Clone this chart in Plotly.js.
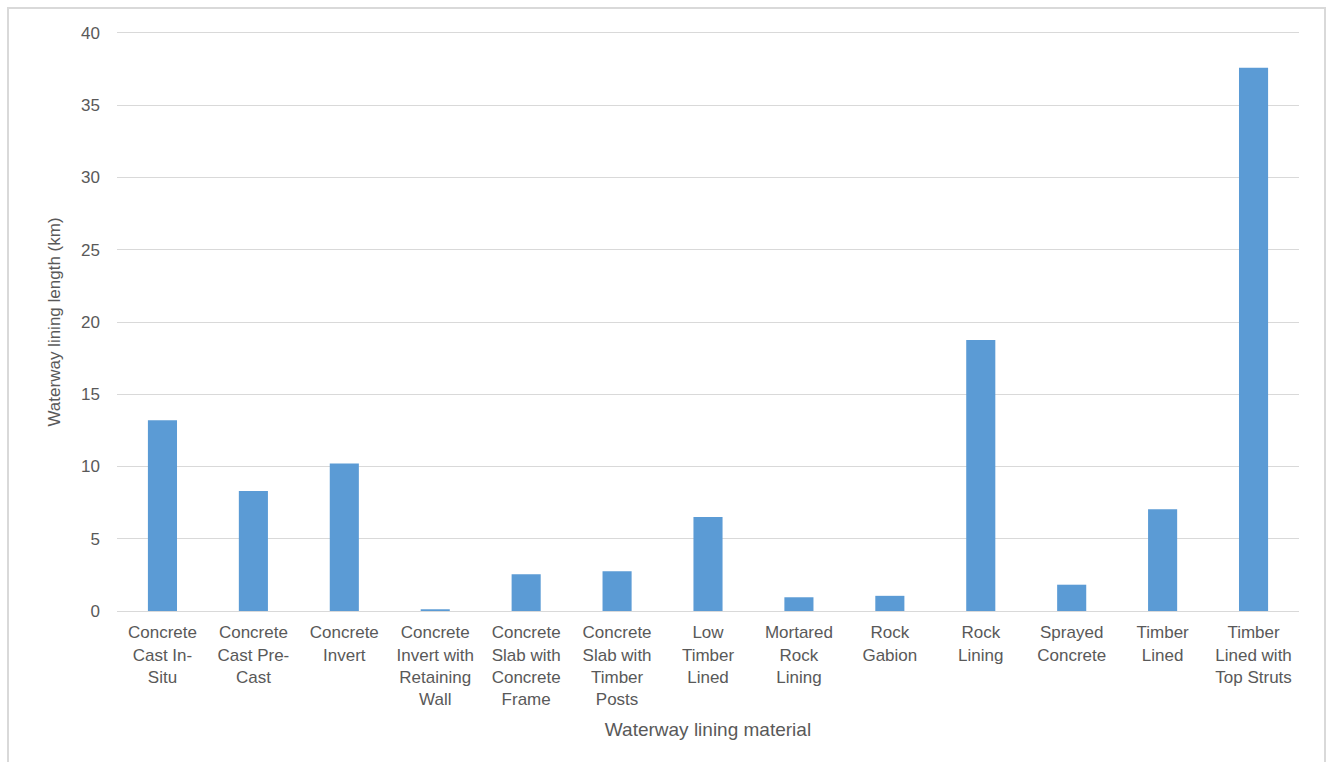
<!DOCTYPE html>
<html>
<head>
<meta charset="utf-8">
<script src="https://cdn.plot.ly/plotly-3.0.1.min.js"></script>
<style>
  html, body { margin: 0; padding: 0; background: #fff; }
  #frame { position: absolute; left: 7px; top: 7px; width: 1319px; height: 770px; border: 2px solid #d9d9d9; box-sizing: border-box; }
  #chart { position: absolute; left: 0; top: 0; width: 1333px; height: 762px; }
</style>
</head>
<body>
<div id="frame"></div>
<div id="chart"></div>
<script>
const categories = [
  "Concrete<br>Cast In-<br>Situ",
  "Concrete<br>Cast Pre-<br>Cast",
  "Concrete<br>Invert",
  "Concrete<br>Invert with<br>Retaining<br>Wall",
  "Concrete<br>Slab with<br>Concrete<br>Frame",
  "Concrete<br>Slab with<br>Timber<br>Posts",
  "Low<br>Timber<br>Lined",
  "Mortared<br>Rock<br>Lining",
  "Rock<br>Gabion",
  "Rock<br>Lining",
  "Sprayed<br>Concrete",
  "Timber<br>Lined",
  "Timber<br>Lined with<br>Top Struts"
];
const lengthKm = [13.2, 8.3, 10.2, 0.12, 2.55, 2.75, 6.5, 0.95, 1.05, 18.75, 1.82, 7.05, 37.6];
const yTicks = [0, 5, 10, 15, 20, 25, 30, 35, 40];

const trace = {
  type: 'bar',
  x: categories,
  y: lengthKm,
  marker: { color: '#5b9bd5' },
  hoverinfo: 'x+y'
};

const layout = {
  width: 1333,
  height: 762,
  paper_bgcolor: 'rgba(0,0,0,0)',
  plot_bgcolor: 'rgba(0,0,0,0)',
  margin: { l: 117, r: 34, t: 33, b: 151 },
  bargap: 0.68,
  showlegend: false,
  font: { family: 'Liberation Sans, Arial, sans-serif', color: '#595959', size: 17 },
  xaxis: {
    type: 'category',
    tickangle: 0,
    showgrid: false,
    showline: true,
    mirror: true,
    linecolor: '#d9d9d9',
    linewidth: 1,
    ticks: '',
    ticklabelstandoff: 6,
    tickfont: { size: 17, color: '#595959' },
    title: { text: 'Waterway lining material', font: { size: 19, color: '#595959' }, standoff: 14 }
  },
  yaxis: {
    range: [0, 40],
    tickvals: yTicks,
    ticktext: yTicks.map(String),
    showgrid: true,
    gridcolor: '#d9d9d9',
    gridwidth: 1,
    zeroline: false,
    showline: false,
    ticks: '',
    ticklabelstandoff: 16,
    tickfont: { size: 17, color: '#595959' },
    title: { text: 'Waterway lining length (km)', font: { size: 17, color: '#595959' }, standoff: 16 }
  }
};

Plotly.newPlot('chart', [trace], layout, { displayModeBar: false, staticPlot: true });
</script>
</body>
</html>
